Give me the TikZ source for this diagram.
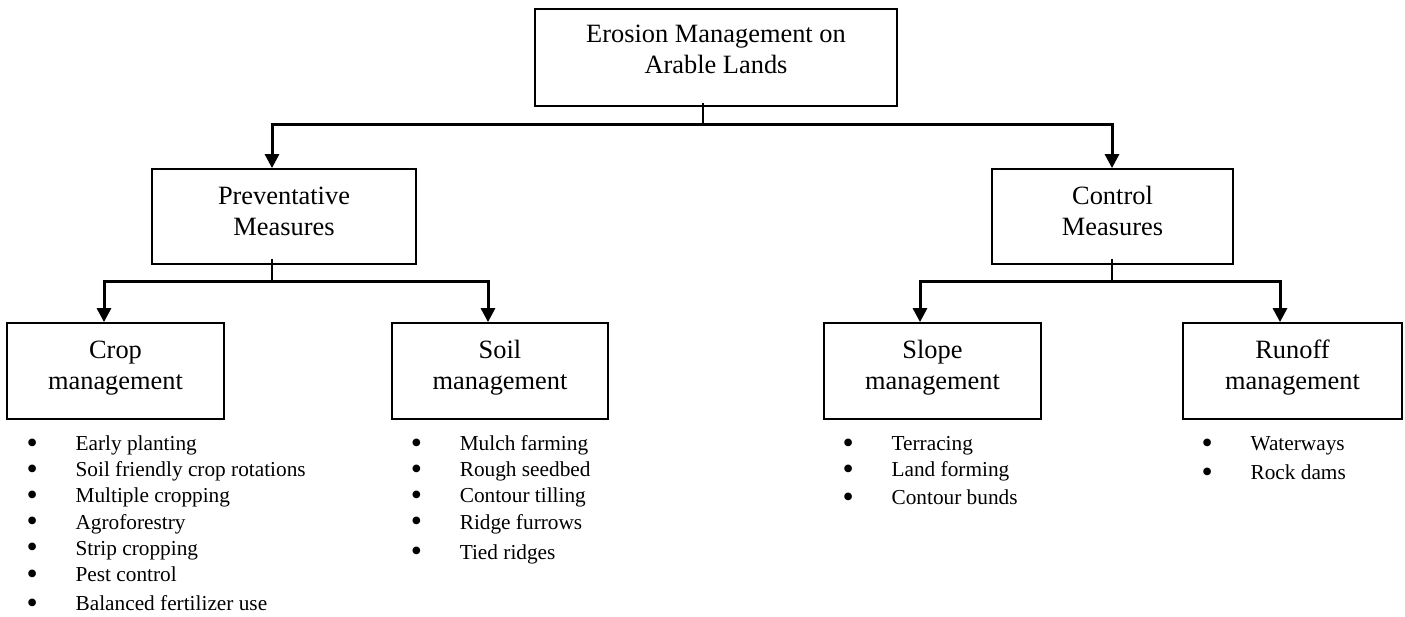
\documentclass[tikz,border=0pt]{standalone}
\usepackage{fontspec}
\setmainfont{Liberation Serif}
\usetikzlibrary{arrows.meta}
\newcommand\dpth[1]{\rule[-#1]{0pt}{0pt}}
\newcommand\bul{\makebox[49pt][l]{\raisebox{-2.5pt}{\fontsize{32pt}{32pt}\selectfont\textbullet}}}
\begin{document}
\begin{tikzpicture}[x=1pt,y=1pt,
  box/.style={draw, line width=1.8pt, rectangle, inner sep=0pt, align=center,
    font=\fontsize{26.4pt}{31pt}\selectfont},
  listtxt/.style={inner sep=0pt, align=left, anchor=base west,
    font=\fontsize{21.3pt}{26.2pt}\selectfont},
  stem/.style={line width=2pt},
  arr/.style={line width=3pt, -{Triangle[width=14pt,length=14pt]}}
]
\useasboundingbox (0,0) rectangle (1405,-616);

% boxes
\node[box, minimum width=362pt, minimum height=97pt] (top) at (716,-57.5)
  {Erosion Management on\\Arable Lands\dpth{16pt}};
\node[box, minimum width=264pt, minimum height=95pt] (prev) at (284,-216.5)
  {Preventative\\Measures\dpth{10.5pt}};
\node[box, minimum width=241pt, minimum height=95pt] (ctrl) at (1112.5,-216.5)
  {Control\\Measures\dpth{11pt}};
\node[box, minimum width=217pt, minimum height=96pt] (crop) at (115.5,-371)
  {Crop\\management\dpth{12pt}};
\node[box, minimum width=216pt, minimum height=96pt] (soil) at (500,-371)
  {Soil\\management\dpth{13pt}};
\node[box, minimum width=217pt, minimum height=96pt] (slope) at (932.5,-371)
  {Slope\\management\dpth{13pt}};
\node[box, minimum width=219pt, minimum height=96pt] (runoff) at (1292.5,-371)
  {Runoff\\management\dpth{13pt}};

% junctions and arrow columns
\coordinate (j0) at (703,-124);
\coordinate (j1) at (272,-281);
\coordinate (j2) at (1112,-281);
\coordinate (aprev) at (272,0);
\coordinate (actrl) at (1112,0);
\coordinate (acrop) at (104,0);
\coordinate (asoil) at (488,0);
\coordinate (aslope) at (920,0);
\coordinate (arun) at (1280,0);

% connectors
\draw[stem] (top.south -| j0) ++(0,4) -- (j0);
\draw[arr] (j0) -| (prev.north -| aprev);
\draw[arr] (j0) -| (ctrl.north -| actrl);
\draw[stem] (prev.south -| j1) ++(0,6) -- (j1);
\draw[arr] (j1) -| (crop.north -| acrop);
\draw[arr] (j1) -| (soil.north -| asoil);
\draw[stem] (ctrl.south -| j2) ++(0,6) -- (j2);
\draw[arr] (j2) -| (slope.north -| aslope);
\draw[arr] (j2) -| (runoff.north -| arun);

% lists (anchored at the baseline of their last line)
\node[listtxt] (lcrop) at (26.4,-610.5)
  {\bul Early planting\\ \bul Soil friendly crop rotations\\ \bul Multiple cropping\\
   \bul Agroforestry\\ \bul Strip cropping\\ \bul Pest control\\[2.8pt]
   \bul Balanced fertilizer use};
\node[listtxt] (lsoil) at (410.6,-559.1)
  {\bul Mulch farming\\ \bul Rough seedbed\\ \bul Contour tilling\\
   \bul Ridge furrows\\[3.8pt] \bul Tied ridges};
\node[listtxt] (lslope) at (842.4,-504.7)
  {\bul Terracing\\ \bul Land forming\\[1.8pt] \bul Contour bunds};
\node[listtxt] (lrun) at (1201.4,-479.5)
  {\bul Waterways\\[2.8pt] \bul Rock dams};
\end{tikzpicture}
\end{document}
